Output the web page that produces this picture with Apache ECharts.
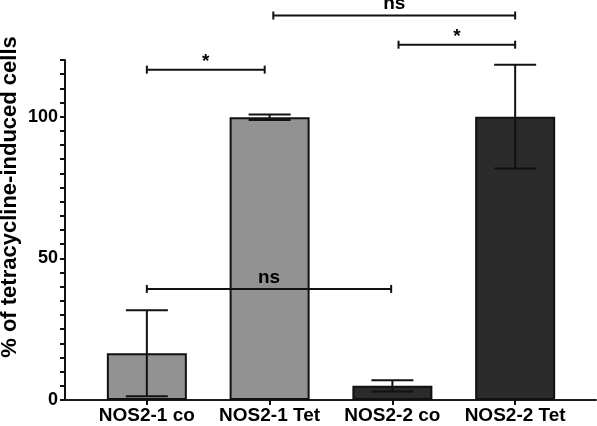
<!DOCTYPE html>
<html>
<head>
<meta charset="utf-8">
<script src="https://cdn.jsdelivr.net/npm/echarts@6/dist/echarts.min.js"></script>
<style>html,body{margin:0;padding:0;background:#fff}#c{width:597px;height:426px}</style>
</head>
<body>
<div id="c"></div>
<script>
var categories = ['NOS2-1 co', 'NOS2-1 Tet', 'NOS2-2 co', 'NOS2-2 Tet'];
var means = [16.5, 99.8, 5.0, 100.0];
var errors = [15.2, 1.0, 2.0, 18.3];
var barColors = ['#929292', '#929292', '#2b2b2b', '#2b2b2b'];
var yTickLabels = [0, 50, 100];
// significance brackets: [from category index, to category index, y value, label]
var bracketFrom = [0, 2.05, 1.03, 0];
var bracketTo = [0.96, 3, 3, 1.99];
var bracketY = [116.6, 125.4, 135.7, 39.2];
var bracketLabels = ['*', '*', 'ns', 'ns'];

var FONT = '"Liberation Sans", Arial, Helvetica, sans-serif';

var barData = means.map(function (m, i) {
  return { value: [i, m], itemStyle: { color: barColors[i] } };
});
var errData = means.map(function (m, i) { return [i, m - errors[i], m + errors[i]]; });
var brData = bracketLabels.map(function (l, i) { return [bracketFrom[i], bracketTo[i], bracketY[i], l]; });

var chart = echarts.init(document.getElementById('c'), null, { renderer: 'canvas' });
chart.setOption({
  animation: false,
  backgroundColor: '#fff',
  grid: { left: 65, right: 0, top: 60, bottom: 26, containLabel: false, outerBoundsMode: 'none' },
  xAxis: {
    type: 'value', min: -2 / 3, max: 11 / 3,
    splitLine: { show: false },
    axisLine: { show: true, onZero: true, lineStyle: { color: '#1a1a1a', width: 2, type: [3, 1] } },
    axisTick: { show: true, customValues: [0, 1, 2, 3], length: 5, lineStyle: { color: '#111', width: 2 } },
    axisLabel: {
      customValues: [0, 1, 2, 3],
      formatter: function (v) { return categories[Math.round(v)]; },
      color: '#000', fontFamily: FONT, fontWeight: 'bold', fontSize: 19, margin: 6
    }
  },
  yAxis: {
    type: 'value', min: 0, max: 120, interval: 5,
    name: '% of tetracycline-induced cells',
    nameLocation: 'middle', nameGap: 44, nameRotate: 90, nameMoveOverlap: false,
    nameTextStyle: { color: '#000', fontFamily: FONT, fontWeight: 'bold', fontSize: 22, padding: [0, 0, 0, 66] },
    splitLine: { show: false },
    axisLine: { show: true, onZero: false, lineStyle: { color: '#111', width: 2 } },
    axisTick: { show: true, length: 5, lineStyle: { color: '#111', width: 2 } },
    axisLabel: {
      customValues: yTickLabels,
      color: '#000', fontFamily: FONT, fontWeight: 'bold', fontSize: 18, margin: 7
    }
  },
  series: [
    {
      type: 'bar', data: barData, barWidth: 80,
      itemStyle: { borderColor: '#111', borderWidth: 2 }
    },
    {
      type: 'custom', data: errData, z: 5,
      renderItem: function (params, api) {
        var x = api.value(0);
        var lo = api.coord([x, api.value(1)]);
        var hi = api.coord([x, api.value(2)]);
        var w = 21;
        var st = { stroke: '#111', lineWidth: 2 };
        return { type: 'group', children: [
          { type: 'line', shape: { x1: lo[0], y1: lo[1], x2: hi[0], y2: hi[1] }, style: st },
          { type: 'line', shape: { x1: hi[0] - w, y1: hi[1], x2: hi[0] + w, y2: hi[1] }, style: st },
          { type: 'line', shape: { x1: lo[0] - w, y1: lo[1], x2: lo[0] + w, y2: lo[1] }, style: st }
        ] };
      }
    },
    {
      type: 'custom', data: brData, z: 6, clip: false,
      renderItem: function (params, api) {
        var a = api.coord([api.value(0), api.value(2)]);
        var b = api.coord([api.value(1), api.value(2)]);
        var lab = brData[params.dataIndex][3];
        var st = { stroke: '#111', lineWidth: 2 };
        var c = 4;
        return { type: 'group', children: [
          { type: 'line', shape: { x1: a[0], y1: a[1], x2: b[0], y2: b[1] }, style: st },
          { type: 'line', shape: { x1: a[0], y1: a[1] - c, x2: a[0], y2: a[1] + c }, style: st },
          { type: 'line', shape: { x1: b[0], y1: b[1] - c, x2: b[0], y2: b[1] + c }, style: st },
          { type: 'text', x: (a[0] + b[0]) / 2, y: a[1] + (lab === '*' ? 2 : -2),
            style: { text: lab, fill: '#000', font: 'bold 19px ' + FONT, align: 'center', verticalAlign: 'bottom' } }
        ] };
      }
    }
  ]
});
</script>
</body>
</html>
